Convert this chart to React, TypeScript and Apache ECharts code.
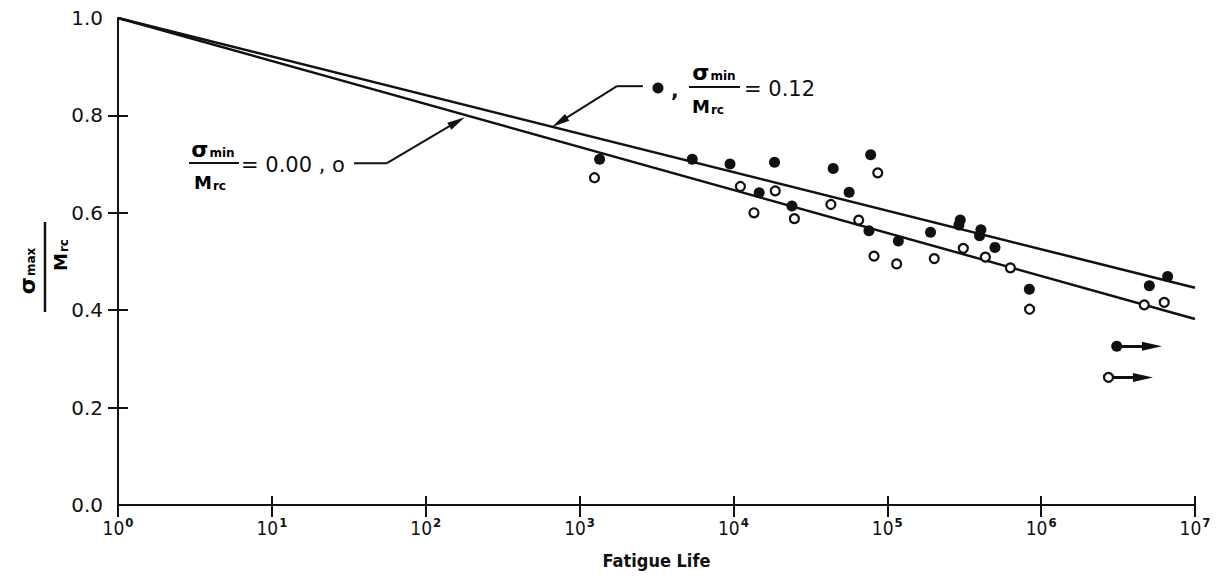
import React, { useEffect, useRef } from "react";
import * as echarts from "echarts";

// Fatigue life N (cycles) and normalised max stress σmax/Mrc
const N_FILLED = [1350, 5400, 9500, 18500, 44500, 78000, 14700, 24000, 56500, 76000, 118000, 191000, 298000, 292000, 406000, 398000, 501000, 838000, 5050000, 6640000];
const S_FILLED = [0.71, 0.71, 0.7, 0.704, 0.691, 0.719, 0.641, 0.614, 0.642, 0.563, 0.542, 0.56, 0.585, 0.575, 0.565, 0.553, 0.529, 0.443, 0.45, 0.469];

const N_OPEN = [1250, 11100, 13600, 18700, 24900, 43000, 65200, 86700, 82000, 115000, 202000, 312000, 434000, 631000, 841000, 4680000, 6310000];
const S_OPEN = [0.672, 0.654, 0.6, 0.645, 0.588, 0.617, 0.585, 0.682, 0.511, 0.495, 0.506, 0.527, 0.509, 0.487, 0.402, 0.411, 0.416];

// Run-outs (specimens that did not fail): start life, stress, arrow end
const RUNOUT_FILLED = { n: 3100000, s: 0.326, end: 5250000 };
const RUNOUT_OPEN = { n: 2740000, s: 0.262, end: 4590000 };

// Fitted lines σmax/Mrc vs N
const FIT_N = [1, 10000000];
const FIT_012 = [1.0, 0.446];
const FIT_000 = [1.0, 0.382];

// Leader lines pointing from the labels to the fitted lines (last point = arrow base)
const LEADER_000_N = [34.2, 56.0, 160];
const LEADER_000_S = [0.702, 0.702, 0.787];
const LEADER_012_N = [2580, 1750, 741];
const LEADER_012_S = [0.86, 0.86, 0.786];

const X_MIN = 1;
const X_MAX = 10000000;
const Y_TICKS = [0.2, 0.4, 0.6, 0.8];

const FONT = "DejaVu Sans";
const FONT_C = "DejaVu Sans Condensed";
const INK = "#111";

const zip = (a: number[], b: number[]) => a.map((v, i) => [v, b[i]]);

export default function App() {
  const ref = useRef<HTMLDivElement>(null);

  useEffect(() => {
    if (!ref.current) return;
    const chart = echarts.init(ref.current, null, { renderer: "svg" });

    const fracRich = {
      g: { fontSize: 22, fontFamily: FONT, fontWeight: "bold", color: INK },
      s: { fontSize: 12, fontFamily: FONT, fontWeight: "bold", color: INK, padding: [8, 0, 0, 1] },
      m: { fontSize: 18, fontFamily: FONT, fontWeight: "bold", color: INK },
      r: { fontSize: 12, fontFamily: FONT, fontWeight: "bold", color: INK, padding: [8, 0, 0, 1] },
    };

    const leaderPath = (n: number[], s: number[]) => zip(n.slice(0, -1), s.slice(0, -1));
    const leaderTip = (n: number[], s: number[]) => zip(n.slice(-2), s.slice(-2));

    const arrowLines = (data: any[], width: number, head: number[]) => ({
      type: "lines",
      coordinateSystem: "cartesian2d",
      symbol: ["none", "triangle"],
      symbolSize: [0, head],
      lineStyle: { color: INK, width, opacity: 1 },
      data,
      z: 3,
    });

    const option: any = {
      animation: false,
      backgroundColor: "#fff",
      grid: { left: 118, right: 26, top: 18, bottom: 74, containLabel: false },
      xAxis: [
        {
          type: "log",
          logBase: 10,
          min: X_MIN,
          max: X_MAX,
          name: "Fatigue Life",
          nameLocation: "middle",
          nameGap: 46,
          nameTextStyle: { fontFamily: FONT_C, fontSize: 18, fontWeight: "bold", color: INK },
          axisLine: { lineStyle: { color: INK, width: 2 } },
          axisTick: { show: true, length: 12, lineStyle: { color: INK, width: 2 } },
          splitLine: { show: false },
          axisLabel: {
            margin: 11,
            formatter: (v: number) => `{b|10}{s|${Math.round(Math.log10(v))}}`,
            rich: {
              b: { fontFamily: FONT_C, fontSize: 19, color: INK },
              s: { fontFamily: FONT_C, fontSize: 13, fontWeight: "bold", color: INK, padding: [0, 0, 11, 1] },
            },
          },
        },
        {
          type: "log",
          logBase: 10,
          min: X_MIN,
          max: X_MAX,
          position: "bottom",
          axisLine: { show: false },
          axisTick: { show: true, inside: true, length: 9, lineStyle: { color: INK, width: 2 } },
          axisLabel: { show: false },
          splitLine: { show: false },
        },
      ],
      yAxis: [
        {
          type: "value",
          min: 0,
          max: 1,
          interval: 0.2,
          axisLine: { show: true, lineStyle: { color: INK, width: 2 } },
          axisTick: { show: true, length: 10, customValues: Y_TICKS, lineStyle: { color: INK, width: 2 } },
          splitLine: { show: false },
          axisLabel: {
            margin: 15,
            fontFamily: FONT,
            fontSize: 20,
            color: INK,
            formatter: (v: number) => v.toFixed(1),
          },
        },
        {
          type: "value",
          min: 0,
          max: 1,
          interval: 0.2,
          position: "left",
          axisLine: { show: false },
          axisTick: { show: true, inside: true, length: 10, customValues: Y_TICKS, lineStyle: { color: INK, width: 2 } },
          axisLabel: { show: false },
          splitLine: { show: false },
        },
      ],
      series: [
        {
          type: "line",
          data: zip(FIT_N, FIT_012),
          symbol: "none",
          lineStyle: { color: INK, width: 2.5 },
          z: 2,
        },
        {
          type: "line",
          data: zip(FIT_N, FIT_000),
          symbol: "none",
          lineStyle: { color: INK, width: 2.5 },
          z: 2,
        },
        // leader bodies (no arrow)
        {
          type: "lines",
          coordinateSystem: "cartesian2d",
          polyline: true,
          symbol: "none",
          lineStyle: { color: INK, width: 2, opacity: 1 },
          data: [
            { coords: leaderPath(LEADER_000_N, LEADER_000_S) },
            { coords: leaderPath(LEADER_012_N, LEADER_012_S) },
          ],
          z: 3,
        },
        // leader final segments with arrowheads
        arrowLines(
          [
            { coords: leaderTip(LEADER_000_N, LEADER_000_S) },
            { coords: leaderTip(LEADER_012_N, LEADER_012_S) },
          ],
          2,
          [8, 18]
        ),
        // run-out arrows
        arrowLines(
          [
            { coords: [[RUNOUT_FILLED.n, RUNOUT_FILLED.s], [RUNOUT_FILLED.end, RUNOUT_FILLED.s]] },
            { coords: [[RUNOUT_OPEN.n, RUNOUT_OPEN.s], [RUNOUT_OPEN.end, RUNOUT_OPEN.s]] },
          ],
          3,
          [9, 20]
        ),
        {
          name: "σmin/Mrc = 0.12",
          type: "scatter",
          data: [...zip(N_FILLED, S_FILLED), [RUNOUT_FILLED.n, RUNOUT_FILLED.s]],
          symbol: "circle",
          symbolSize: 11,
          itemStyle: { color: INK, opacity: 1 },
          z: 5,
        },
        {
          name: "σmin/Mrc = 0.00",
          type: "scatter",
          data: [...zip(N_OPEN, S_OPEN), [RUNOUT_OPEN.n, RUNOUT_OPEN.s]],
          symbol: "circle",
          symbolSize: 9,
          itemStyle: { color: "#fff", borderColor: INK, borderWidth: 2.2, opacity: 1 },
          z: 5,
        },
      ],
      graphic: [
        // y-axis title: σmax / Mrc, rotated
        {
          type: "group",
          x: 45,
          y: 267,
          rotation: Math.PI / 2,
          children: [
            { type: "line", shape: { x1: -45, y1: 0, x2: 45, y2: 0 }, style: { stroke: INK, lineWidth: 2.5 } },
            {
              type: "text",
              x: -4,
              y: -18,
              style: { text: "{g|σ}{s|max}", rich: fracRich, align: "center", verticalAlign: "middle" },
            },
            {
              type: "text",
              x: 12,
              y: 15,
              style: { text: "{m|M}{r|rc}", rich: fracRich, align: "center", verticalAlign: "middle" },
            },
          ],
        },
        // label for the σmin/Mrc = 0.00 (open) line
        { type: "line", shape: { x1: 189, y1: 163, x2: 239, y2: 163 }, style: { stroke: INK, lineWidth: 2 } },
        {
          type: "text",
          x: 213,
          y: 149,
          style: { text: "{g|σ}{s|min}", rich: fracRich, align: "center", verticalAlign: "middle" },
        },
        {
          type: "text",
          x: 210,
          y: 182,
          style: { text: "{m|M}{r|rc}", rich: fracRich, align: "center", verticalAlign: "middle" },
        },
        {
          type: "text",
          x: 241,
          y: 165,
          style: {
            text: "= 0.00 , ο",
            font: `21px "${FONT}"`,
            fill: INK,
            align: "left",
            verticalAlign: "middle",
          },
        },
        // label for the σmin/Mrc = 0.12 (filled) line
        { type: "circle", shape: { cx: 658, cy: 88, r: 5.5 }, style: { fill: INK } },
        {
          type: "text",
          x: 671,
          y: 90,
          style: { text: ",", font: `bold 20px "${FONT}"`, fill: INK, align: "left", verticalAlign: "middle" },
        },
        { type: "line", shape: { x1: 689, y1: 87, x2: 740, y2: 87 }, style: { stroke: INK, lineWidth: 2 } },
        {
          type: "text",
          x: 714,
          y: 72,
          style: { text: "{g|σ}{s|min}", rich: fracRich, align: "center", verticalAlign: "middle" },
        },
        {
          type: "text",
          x: 708,
          y: 106,
          style: { text: "{m|M}{r|rc}", rich: fracRich, align: "center", verticalAlign: "middle" },
        },
        {
          type: "text",
          x: 744,
          y: 89,
          style: { text: "= 0.12", font: `21px "${FONT}"`, fill: INK, align: "left", verticalAlign: "middle" },
        },
      ],
    };

    chart.setOption(option);
    return () => chart.dispose();
  }, []);

  return (
    <div
      ref={ref}
      style={{ position: "fixed", left: 0, top: 0, width: 1221, height: 579, background: "#fff" }}
    />
  );
}
